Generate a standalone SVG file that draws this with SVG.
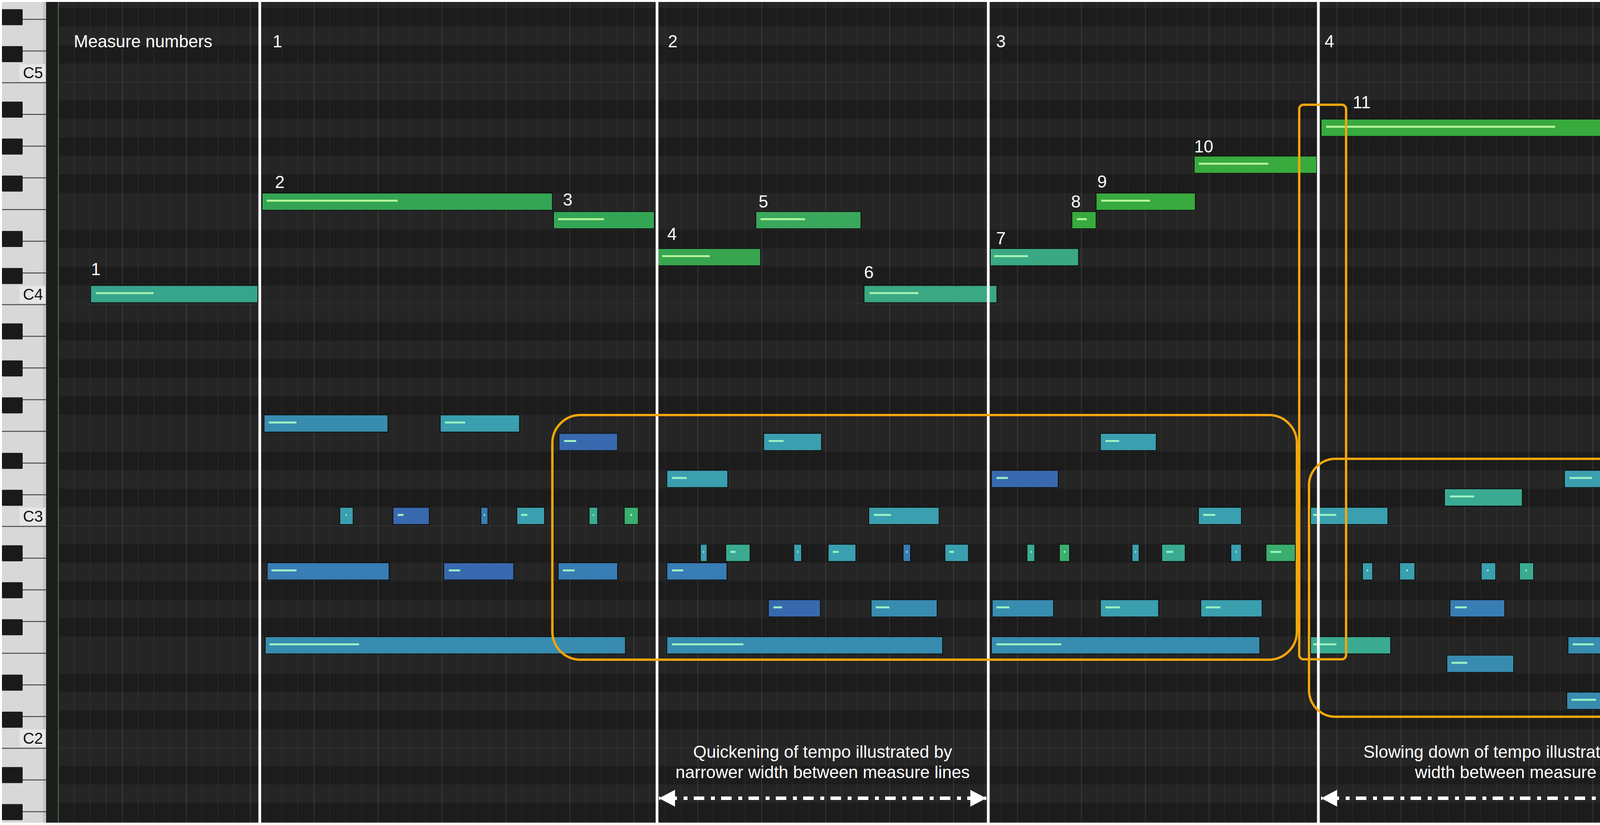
<svg xmlns="http://www.w3.org/2000/svg" width="4562" height="2111" viewBox="0 0 4562 2111">
<defs>
<style>
.t{font-family:"Liberation Sans",Arial,sans-serif;fill:#ffffff;font-size:44px}
.kl{font-family:"Liberation Sans",Arial,sans-serif;fill:#111;font-size:40px;text-anchor:end}
.bk{fill:#1a1a1a}
.kline{stroke:#4a4a4a;stroke-width:2.5}
.n{stroke:#101010;stroke-width:2}
.vm{fill:#b6f59c}
.vt{fill:#a6f2b4}
.vb{fill:#9cf3c4}
.g1{fill:#36a58c}
.g2{fill:#34a555}
.g3{fill:#38a650}
.g4{fill:#3aa85c}
.g5{fill:#3aa882}
.g6{fill:#38aa3e}
.nt1{fill:#388caf}
.nt2{fill:#3a9fae}
.nb1{fill:#3869af}
.nb2{fill:#387db4}
.ng1{fill:#3aab91}
.ng2{fill:#3aae6e}
.ml{fill:#ffffff}
.ob{fill:none;stroke:#f2a50c;stroke-width:6}
.arr{fill:none;stroke:#ffffff;stroke-width:9;stroke-dasharray:27 17 10 16;stroke-dashoffset:-19}
</style>
<pattern id="rows" patternUnits="userSpaceOnUse" x="0" y="209.7" width="4562" height="567.6">
<rect width="4562" height="567.6" fill="#252525"/>
<rect y="47.3" width="4562" height="47.3" fill="#1c1c1c"/>
<rect y="141.9" width="4562" height="47.3" fill="#1c1c1c"/>
<rect y="236.5" width="4562" height="47.3" fill="#1c1c1c"/>
<rect y="378.4" width="4562" height="47.3" fill="#1c1c1c"/>
<rect y="473" width="4562" height="47.3" fill="#1c1c1c"/>
<rect y="-1" width="4562" height="2" fill="#3a3a3a"/>
</pattern>
<pattern id="cols" patternUnits="userSpaceOnUse" x="148.6" y="0" width="163.67" height="2111">
<rect x="0" width="2" height="2111" fill="#ffffff" fill-opacity="0.11"/>
<rect x="40.2" width="1.5" height="2111" fill="#ffffff" fill-opacity="0.06"/>
<rect x="81.1" width="1.5" height="2111" fill="#ffffff" fill-opacity="0.06"/>
<rect x="122" width="1.5" height="2111" fill="#ffffff" fill-opacity="0.06"/>
</pattern>
<clipPath id="gridclip"><rect x="150" y="5" width="4405" height="2100"/></clipPath>
<marker id="ah" viewBox="0 0 41 43" refX="41" refY="21.5" markerWidth="41" markerHeight="43" markerUnits="userSpaceOnUse" orient="auto-start-reverse">
<path d="M0,0 L41,21.5 L0,43 Z" fill="#ffffff"/>
</marker>
</defs>

<rect width="4562" height="2111" fill="#ffffff"/>

<g id="grid">
<rect x="150" y="5" width="4405" height="2100" fill="url(#rows)"/>
<rect x="150" y="5" width="4405" height="2100" fill="url(#cols)"/>
</g>

<g id="keyboard">
<rect x="5" y="5" width="113" height="2100" fill="#d8d8d8"/>
<rect x="110" y="5" width="8" height="2100" fill="#c4c4c4"/>
<rect x="50" y="163.4" width="66" height="45" fill="#e6e6e6"/>
<rect x="50" y="731" width="66" height="45" fill="#e6e6e6"/>
<rect x="50" y="1298.6" width="66" height="45" fill="#e6e6e6"/>
<rect x="50" y="1866.2" width="66" height="45" fill="#e6e6e6"/>
<g class="kline">
<line x1="5" y1="49.5" x2="118" y2="49.5"/>
<line x1="5" y1="130.6" x2="118" y2="130.6"/>
<line x1="5" y1="211.7" x2="118" y2="211.7"/>
<line x1="5" y1="292.8" x2="118" y2="292.8"/>
<line x1="5" y1="373.9" x2="118" y2="373.9"/>
<line x1="5" y1="455.1" x2="118" y2="455.1"/>
<line x1="5" y1="536.2" x2="118" y2="536.2"/>
<line x1="5" y1="617.3" x2="118" y2="617.3"/>
<line x1="5" y1="698.4" x2="118" y2="698.4"/>
<line x1="5" y1="779.5" x2="118" y2="779.5"/>
<line x1="5" y1="860.6" x2="118" y2="860.6"/>
<line x1="5" y1="941.6" x2="118" y2="941.6"/>
<line x1="5" y1="1022.7" x2="118" y2="1022.7"/>
<line x1="5" y1="1103.8" x2="118" y2="1103.8"/>
<line x1="5" y1="1184.9" x2="118" y2="1184.9"/>
<line x1="5" y1="1266" x2="118" y2="1266"/>
<line x1="5" y1="1347.1" x2="118" y2="1347.1"/>
<line x1="5" y1="1428.2" x2="118" y2="1428.2"/>
<line x1="5" y1="1509.3" x2="118" y2="1509.3"/>
<line x1="5" y1="1590.3" x2="118" y2="1590.3"/>
<line x1="5" y1="1671.4" x2="118" y2="1671.4"/>
<line x1="5" y1="1752.5" x2="118" y2="1752.5"/>
<line x1="5" y1="1833.6" x2="118" y2="1833.6"/>
<line x1="5" y1="1914.7" x2="118" y2="1914.7"/>
<line x1="5" y1="1995.8" x2="118" y2="1995.8"/>
<line x1="5" y1="2076.9" x2="118" y2="2076.9"/>
</g>
<g class="bk">
<rect x="5" y="23.5" width="53" height="41" rx="2"/>
<rect x="5" y="118.1" width="53" height="41" rx="2"/>
<rect x="5" y="260" width="53" height="41" rx="2"/>
<rect x="5" y="354.6" width="53" height="41" rx="2"/>
<rect x="5" y="449.2" width="53" height="41" rx="2"/>
<rect x="5" y="591.1" width="53" height="41" rx="2"/>
<rect x="5" y="685.7" width="53" height="41" rx="2"/>
<rect x="5" y="827.6" width="53" height="41" rx="2"/>
<rect x="5" y="922.2" width="53" height="41" rx="2"/>
<rect x="5" y="1016.8" width="53" height="41" rx="2"/>
<rect x="5" y="1158.7" width="53" height="41" rx="2"/>
<rect x="5" y="1253.3" width="53" height="41" rx="2"/>
<rect x="5" y="1395.2" width="53" height="41" rx="2"/>
<rect x="5" y="1489.8" width="53" height="41" rx="2"/>
<rect x="5" y="1584.4" width="53" height="41" rx="2"/>
<rect x="5" y="1726.3" width="53" height="41" rx="2"/>
<rect x="5" y="1820.9" width="53" height="41" rx="2"/>
<rect x="5" y="1962.8" width="53" height="41" rx="2"/>
<rect x="5" y="2057.4" width="53" height="41" rx="2"/>
</g>
<text class="kl" x="110" y="200">C5</text>
<text class="kl" x="110" y="767">C4</text>
<text class="kl" x="110" y="1335">C3</text>
<text class="kl" x="110" y="1903">C2</text>
<rect x="118" y="5" width="31" height="2100" fill="#1d1d1d"/>
<rect x="148" y="5" width="2.5" height="2100" fill="#3f6f3f"/>
</g>

<g id="notes" clip-path="url(#gridclip)">
<g id="melody-note-1"><rect class="n g1" x="232" y="730.5" width="428" height="44"/><rect class="vt" x="245" y="747.5" width="148" height="5"/></g>
<g id="melody-note-2"><rect class="n g2" x="671" y="494" width="743" height="44"/><rect class="vm" x="683" y="511" width="335" height="5"/></g>
<g id="melody-note-3"><rect class="n g2" x="1417" y="541.3" width="258" height="44"/><rect class="vm" x="1429" y="558.3" width="117" height="5"/></g>
<g id="melody-note-4"><rect class="n g3" x="1684" y="635.9" width="263" height="44"/><rect class="vm" x="1695" y="652.9" width="122" height="5"/></g>
<g id="melody-note-5"><rect class="n g4" x="1935" y="541.3" width="269" height="44"/><rect class="vm" x="1947" y="558.3" width="114" height="5"/></g>
<g id="melody-note-6"><rect class="n g5" x="2212" y="730.5" width="340" height="44"/><rect class="vt" x="2226" y="747.5" width="125" height="5"/></g>
<g id="melody-note-7"><rect class="n g5" x="2535" y="635.9" width="226" height="44"/><rect class="vt" x="2545" y="652.9" width="87" height="5"/></g>
<g id="melody-note-8"><rect class="n g6" x="2744" y="541.3" width="62" height="44"/><rect class="vm" x="2757" y="558.3" width="25" height="5"/></g>
<g id="melody-note-9"><rect class="n g6" x="2806" y="494" width="254" height="44"/><rect class="vm" x="2819" y="511" width="125" height="5"/></g>
<g id="melody-note-10"><rect class="n g6" x="3057" y="399.4" width="314" height="44"/><rect class="vm" x="3069" y="416.4" width="178" height="5"/></g>
<g id="melody-note-11"><rect class="n g6" x="3382" y="304.8" width="1087" height="44"/><rect class="vm" x="3395" y="321.8" width="586" height="5"/></g>
<g id="melody-note-12"><rect class="n g4" x="4447" y="399.4" width="120" height="44"/><rect class="vm" x="4452" y="416.4" width="103" height="5"/></g>

<g id="row-F3">
<rect class="n nt1" x="676" y="1061.6" width="317" height="44"/><rect class="vb" x="688" y="1078.6" width="71" height="5"/>
<rect class="n nt2" x="1127" y="1061.6" width="203" height="44"/><rect class="vb" x="1139" y="1078.6" width="52" height="5"/>
</g>
<g id="row-E3">
<rect class="n nb1" x="1431" y="1108.9" width="150" height="44"/><rect class="vb" x="1444" y="1125.9" width="31" height="5"/>
<rect class="n nt2" x="1955" y="1108.9" width="148" height="44"/><rect class="vb" x="1968" y="1125.9" width="38" height="5"/>
<rect class="n nt2" x="2817" y="1108.9" width="143" height="44"/><rect class="vb" x="2830" y="1125.9" width="35" height="5"/>
</g>
<g id="row-D3">
<rect class="n nt2" x="1707" y="1203.5" width="156" height="44"/><rect class="vb" x="1720" y="1220.5" width="38" height="5"/>
<rect class="n nb1" x="2538" y="1203.5" width="171" height="44"/><rect class="vb" x="2551" y="1220.5" width="29" height="5"/>
<rect class="n nt2" x="4005" y="1203.5" width="222" height="44"/><rect class="vb" x="4018" y="1220.5" width="58" height="5"/>
</g>
<g id="row-Db3">
<rect class="n ng1" x="3698" y="1250.8" width="199" height="44"/><rect class="vb" x="3712" y="1267.8" width="62" height="5"/>
</g>
<g id="row-C3">
<rect class="n nt2" x="870" y="1298.1" width="34" height="44"/><rect class="vb" x="885" y="1315.1" width="3" height="5"/>
<rect class="n nb1" x="1006" y="1298.1" width="93" height="44"/><rect class="vb" x="1018" y="1315.1" width="15" height="5"/>
<rect class="n nb2" x="1231" y="1298.1" width="18" height="44"/><rect class="vb" x="1239" y="1315.1" width="3" height="5"/>
<rect class="n nt2" x="1323" y="1298.1" width="71" height="44"/><rect class="vb" x="1334" y="1315.1" width="16" height="5"/>
<rect class="n ng1" x="1508" y="1298.1" width="22" height="44"/><rect class="vb" x="1518" y="1315.1" width="3" height="5"/>
<rect class="n ng2" x="1598" y="1298.1" width="36" height="44"/><rect class="vb" x="1613" y="1315.1" width="5" height="5"/>
<rect class="n nt2" x="2224" y="1298.1" width="180" height="44"/><rect class="vb" x="2237" y="1315.1" width="44" height="5"/>
<rect class="n nt2" x="3068" y="1298.1" width="110" height="44"/><rect class="vb" x="3080" y="1315.1" width="31" height="5"/>
<rect class="n nt2" x="3355" y="1298.1" width="198" height="44"/><rect class="vb" x="3362" y="1315.1" width="59" height="5"/>
</g>
<g id="row-B2">
<rect class="n nt1" x="4410" y="1345.4" width="150" height="44"/><rect class="vb" x="4423" y="1362.4" width="49" height="5"/>
</g>
<g id="row-Bb2">
<rect class="n nt2" x="1793" y="1392.7" width="17" height="44"/><rect class="vb" x="1800" y="1409.7" width="3" height="5"/>
<rect class="n ng1" x="1858" y="1392.7" width="62" height="44"/><rect class="vb" x="1870" y="1409.7" width="13" height="5"/>
<rect class="n nt2" x="2032" y="1392.7" width="20" height="44"/><rect class="vb" x="2041" y="1409.7" width="3" height="5"/>
<rect class="n nt2" x="2120" y="1392.7" width="71" height="44"/><rect class="vb" x="2132" y="1409.7" width="15" height="5"/>
<rect class="n nb2" x="2312" y="1392.7" width="19" height="44"/><rect class="vb" x="2320" y="1409.7" width="3" height="5"/>
<rect class="n nt2" x="2419" y="1392.7" width="60" height="44"/><rect class="vb" x="2430" y="1409.7" width="12" height="5"/>
<rect class="n ng1" x="2629" y="1392.7" width="20" height="44"/><rect class="vb" x="2638" y="1409.7" width="3" height="5"/>
<rect class="n ng2" x="2712" y="1392.7" width="26" height="44"/><rect class="vb" x="2723" y="1409.7" width="4" height="5"/>
<rect class="n nt2" x="2898" y="1392.7" width="18" height="44"/><rect class="vb" x="2906" y="1409.7" width="3" height="5"/>
<rect class="n ng1" x="2974" y="1392.7" width="60" height="44"/><rect class="vb" x="2986" y="1409.7" width="17" height="5"/>
<rect class="n nt2" x="3151" y="1392.7" width="27" height="44"/><rect class="vb" x="3163" y="1409.7" width="3" height="5"/>
<rect class="n ng2" x="3241" y="1392.7" width="75" height="44"/><rect class="vb" x="3252" y="1409.7" width="28" height="5"/>
</g>
<g id="row-A2">
<rect class="n nb2" x="684" y="1440" width="312" height="44"/><rect class="vb" x="695" y="1457" width="64" height="5"/>
<rect class="n nb1" x="1136" y="1440" width="179" height="44"/><rect class="vb" x="1149" y="1457" width="29" height="5"/>
<rect class="n nb2" x="1429" y="1440" width="152" height="44"/><rect class="vb" x="1441" y="1457" width="30" height="5"/>
<rect class="n nb2" x="1707" y="1440" width="154" height="44"/><rect class="vb" x="1720" y="1457" width="29" height="5"/>
<rect class="n nt2" x="3488" y="1440" width="26" height="44"/><rect class="vb" x="3499" y="1457" width="4" height="5"/>
<rect class="n nt2" x="3583" y="1440" width="39" height="44"/><rect class="vb" x="3600" y="1457" width="4" height="5"/>
<rect class="n nt2" x="3792" y="1440" width="37" height="44"/><rect class="vb" x="3807" y="1457" width="4" height="5"/>
<rect class="n ng1" x="3890" y="1440" width="36" height="44"/><rect class="vb" x="3905" y="1457" width="4" height="5"/>
<rect class="n nt2" x="4118" y="1440" width="30" height="44"/><rect class="vb" x="4132" y="1457" width="3" height="5"/>
<rect class="n nt2" x="4253" y="1440" width="63" height="44"/><rect class="vb" x="4265" y="1457" width="12" height="5"/>
</g>
<g id="row-G2">
<rect class="n nb1" x="1967" y="1534.6" width="133" height="44"/><rect class="vb" x="1980" y="1551.6" width="22" height="5"/>
<rect class="n nt1" x="2230" y="1534.6" width="169" height="44"/><rect class="vb" x="2242" y="1551.6" width="35" height="5"/>
<rect class="n nt1" x="2540" y="1534.6" width="157" height="44"/><rect class="vb" x="2551" y="1551.6" width="33" height="5"/>
<rect class="n nt2" x="2817" y="1534.6" width="149" height="44"/><rect class="vb" x="2830" y="1551.6" width="37" height="5"/>
<rect class="n nt2" x="3074" y="1534.6" width="157" height="44"/><rect class="vb" x="3087" y="1551.6" width="37" height="5"/>
<rect class="n nb2" x="3712" y="1534.6" width="140" height="44"/><rect class="vb" x="3725" y="1551.6" width="30" height="5"/>
<rect class="n nt2" x="4542" y="1534.6" width="30" height="44"/>
</g>
<g id="row-F2">
<rect class="n nt1" x="679" y="1629.2" width="922" height="44"/><rect class="vb" x="690" y="1646.2" width="229" height="5"/>
<rect class="n nt1" x="1707" y="1629.2" width="706" height="44"/><rect class="vb" x="1720" y="1646.2" width="183" height="5"/>
<rect class="n nt1" x="2538" y="1629.2" width="687" height="44"/><rect class="vb" x="2551" y="1646.2" width="166" height="5"/>
<rect class="n ng1" x="3355" y="1629.2" width="205" height="44"/><rect class="vb" x="3362" y="1646.2" width="59" height="5"/>
<rect class="n nt1" x="4014" y="1629.2" width="228" height="44"/><rect class="vb" x="4026" y="1646.2" width="54" height="5"/>
<rect class="n nt1" x="4415" y="1629.2" width="150" height="44"/><rect class="vb" x="4428" y="1646.2" width="41" height="5"/>
</g>
<g id="row-E2">
<rect class="n nt1" x="3704" y="1676.5" width="171" height="44"/><rect class="vb" x="3716" y="1693.5" width="40" height="5"/>
</g>
<g id="row-D2">
<rect class="n nt1" x="4011" y="1771.1" width="242" height="44"/><rect class="vb" x="4023" y="1788.1" width="63" height="5"/>
<rect class="n nt1" x="4415" y="1771.1" width="150" height="44"/><rect class="vb" x="4428" y="1788.1" width="41" height="5"/>
</g>
</g>

<g id="measure-lines" class="ml">
<rect x="661.5" y="5" width="7" height="2100"/>
<rect x="1678.5" y="5" width="7" height="2100"/>
<rect x="2526.5" y="5" width="7" height="2100"/>
<rect x="3371.5" y="5" width="7" height="2100"/>
<rect x="4437.5" y="5" width="7" height="2100"/>
</g>

<g id="highlight-boxes">
<rect id="box-quickening" class="ob" x="1414" y="1062" width="1906" height="626" rx="72"/>
<rect id="box-transition" class="ob" x="3326" y="268" width="120" height="1419" rx="11"/>
<rect id="box-slowing" class="ob" x="3351" y="1174" width="998" height="660" rx="68"/>
</g>

<g id="labels" class="t">
<text x="189" y="121">Measure numbers</text>
<text x="698" y="121">1</text>
<text x="1710" y="121">2</text>
<text x="2550" y="121">3</text>
<text x="3391" y="121">4</text>
<text x="4469" y="113">5</text>
<text x="233" y="704">1</text>
<text x="704" y="481">2</text>
<text x="1441" y="526">3</text>
<text x="1708" y="614">4</text>
<text x="1942" y="531">5</text>
<text x="2212" y="712">6</text>
<text x="2550" y="625">7</text>
<text x="2742" y="531">8</text>
<text x="2809" y="480">9</text>
<text x="3057" y="390">10</text>
<text x="3463" y="277">11</text>
<text x="2106" y="1939" text-anchor="middle">Quickening of tempo illustrated by</text>
<text x="2106" y="1991" text-anchor="middle">narrower width between measure lines</text>
<text x="3906" y="1939" text-anchor="middle">Slowing down of tempo illustrated by wider</text>
<text x="3906" y="1991" text-anchor="middle">width between measure lines</text>
</g>

<g id="connectors">
<path class="arr" d="M1687,2042.5 H2525" marker-start="url(#ah)" marker-end="url(#ah)"/>
<path class="arr" d="M3382,2042.5 H4429" marker-start="url(#ah)" marker-end="url(#ah)"/>
</g>
</svg>
